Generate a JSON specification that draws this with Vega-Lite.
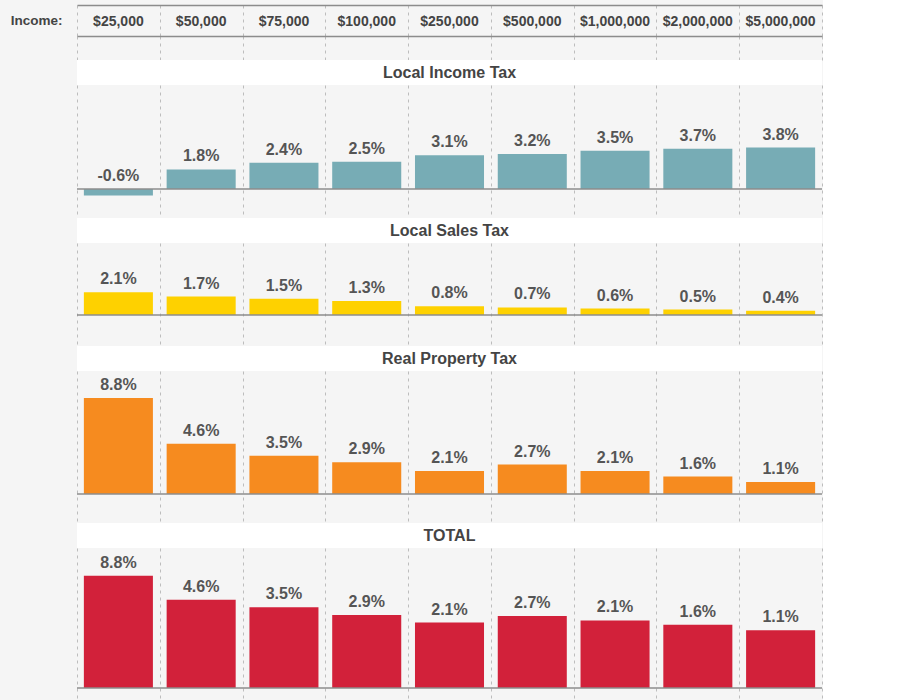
{
  "$schema": "https://vega.github.io/schema/vega-lite/v6.json",
  "background": "#f5f5f5",
  "padding": {"left": 10, "top": 5, "right": 0, "bottom": 0},
  "spacing": 0,
  "config": {
    "font": "Liberation Sans",
    "view": {"stroke": null},
    "axisX": {"domain": false, "labels": false, "ticks": false, "grid": true, "gridDash": [3, 4], "gridColor": "#bdbdbd", "gridWidth": 1, "tickBand": "extent"}
  },
  "datasets": {
    "header": [
      {"row": "Income:", "income": "$25,000"},
      {"row": "Income:", "income": "$50,000"},
      {"row": "Income:", "income": "$75,000"},
      {"row": "Income:", "income": "$100,000"},
      {"row": "Income:", "income": "$250,000"},
      {"row": "Income:", "income": "$500,000"},
      {"row": "Income:", "income": "$1,000,000"},
      {"row": "Income:", "income": "$2,000,000"},
      {"row": "Income:", "income": "$5,000,000"}
    ],
    "taxes": [
      {"panel": "Local Income Tax", "income": "$25,000", "value": -0.6, "label": "-0.6%"},
      {"panel": "Local Income Tax", "income": "$50,000", "value": 1.8, "label": "1.8%"},
      {"panel": "Local Income Tax", "income": "$75,000", "value": 2.4, "label": "2.4%"},
      {"panel": "Local Income Tax", "income": "$100,000", "value": 2.5, "label": "2.5%"},
      {"panel": "Local Income Tax", "income": "$250,000", "value": 3.1, "label": "3.1%"},
      {"panel": "Local Income Tax", "income": "$500,000", "value": 3.2, "label": "3.2%"},
      {"panel": "Local Income Tax", "income": "$1,000,000", "value": 3.5, "label": "3.5%"},
      {"panel": "Local Income Tax", "income": "$2,000,000", "value": 3.7, "label": "3.7%"},
      {"panel": "Local Income Tax", "income": "$5,000,000", "value": 3.8, "label": "3.8%"},
      {"panel": "Local Sales Tax", "income": "$25,000", "value": 2.1, "label": "2.1%"},
      {"panel": "Local Sales Tax", "income": "$50,000", "value": 1.7, "label": "1.7%"},
      {"panel": "Local Sales Tax", "income": "$75,000", "value": 1.5, "label": "1.5%"},
      {"panel": "Local Sales Tax", "income": "$100,000", "value": 1.3, "label": "1.3%"},
      {"panel": "Local Sales Tax", "income": "$250,000", "value": 0.8, "label": "0.8%"},
      {"panel": "Local Sales Tax", "income": "$500,000", "value": 0.7, "label": "0.7%"},
      {"panel": "Local Sales Tax", "income": "$1,000,000", "value": 0.6, "label": "0.6%"},
      {"panel": "Local Sales Tax", "income": "$2,000,000", "value": 0.5, "label": "0.5%"},
      {"panel": "Local Sales Tax", "income": "$5,000,000", "value": 0.4, "label": "0.4%"},
      {"panel": "Real Property Tax", "income": "$25,000", "value": 8.8, "label": "8.8%"},
      {"panel": "Real Property Tax", "income": "$50,000", "value": 4.6, "label": "4.6%"},
      {"panel": "Real Property Tax", "income": "$75,000", "value": 3.5, "label": "3.5%"},
      {"panel": "Real Property Tax", "income": "$100,000", "value": 2.9, "label": "2.9%"},
      {"panel": "Real Property Tax", "income": "$250,000", "value": 2.1, "label": "2.1%"},
      {"panel": "Real Property Tax", "income": "$500,000", "value": 2.7, "label": "2.7%"},
      {"panel": "Real Property Tax", "income": "$1,000,000", "value": 2.1, "label": "2.1%"},
      {"panel": "Real Property Tax", "income": "$2,000,000", "value": 1.6, "label": "1.6%"},
      {"panel": "Real Property Tax", "income": "$5,000,000", "value": 1.1, "label": "1.1%"},
      {"panel": "TOTAL", "income": "$25,000", "value": 10.3, "label": "8.8%"},
      {"panel": "TOTAL", "income": "$50,000", "value": 8.1, "label": "4.6%"},
      {"panel": "TOTAL", "income": "$75,000", "value": 7.4, "label": "3.5%"},
      {"panel": "TOTAL", "income": "$100,000", "value": 6.7, "label": "2.9%"},
      {"panel": "TOTAL", "income": "$250,000", "value": 6.0, "label": "2.1%"},
      {"panel": "TOTAL", "income": "$500,000", "value": 6.6, "label": "2.7%"},
      {"panel": "TOTAL", "income": "$1,000,000", "value": 6.2, "label": "2.1%"},
      {"panel": "TOTAL", "income": "$2,000,000", "value": 5.8, "label": "1.6%"},
      {"panel": "TOTAL", "income": "$5,000,000", "value": 5.3, "label": "1.1%"}
    ]
  },
  "vconcat": [
    {
      "width": 745, "height": 31,
      "data": {"name": "header"},
      "mark": {"type": "text", "fontSize": 14, "fontWeight": "bold", "color": "#444444", "dy": 1.5},
      "encoding": {
        "x": {"field": "income", "type": "nominal", "sort": null, "scale": {"type": "band", "paddingInner": 0, "paddingOuter": 0}, "title": null, "axis": {"orient": "top", "domain": true, "domainColor": "#8c8c8c", "domainWidth": 1.5}},
        "y": {"field": "row", "type": "nominal", "title": null, "axis": {"domain": false, "ticks": false, "grid": false, "labelFontSize": 13.5, "labelFontWeight": "bold", "labelColor": "#444444", "labelPadding": 15, "labelFont": "Liberation Sans"}},
        "text": {"field": "income"}
      }
    },
    {
      "width": 745, "height": 24,
      "data": {"name": "header"},
      "mark": {"type": "text", "opacity": 0},
      "encoding": {
        "x": {"field": "income", "type": "nominal", "sort": null, "scale": {"type": "band", "paddingInner": 0, "paddingOuter": 0}, "title": null, "axis": {"orient": "top", "domain": true, "domainColor": "#8c8c8c", "domainWidth": 1.5}},
        "text": {"field": "income"}
      }
    },
    {
      "width": 745, "height": 25,
      "view": {"fill": "white", "stroke": null},
      "data": {"values": [{"title": "Local Income Tax"}]},
      "mark": {"type": "text", "fontSize": 16, "fontWeight": "bold", "color": "#444444"},
      "encoding": {"text": {"field": "title"}}
    },
    {
      "width": 745, "height": 133,
      "data": {"name": "taxes"},
      "transform": [{"filter": "datum.panel === 'Local Income Tax'"}],
      "layer": [
        {
          "mark": {"type": "bar", "width": {"band": 0.834}, "color": "#77acb5"},
          "encoding": {
            "x": {"field": "income", "type": "nominal", "sort": null, "scale": {"type": "band", "paddingInner": 0, "paddingOuter": 0}, "title": null},
            "y": {"field": "value", "type": "quantitative", "scale": {"domain": [-2.66, 9.54], "nice": false, "zero": false}, "axis": null}
          }
        },
        {
          "data": {"values": [{}]},
          "mark": {"type": "rule", "color": "#8c8c8c", "strokeWidth": 1.5},
          "encoding": {"y": {"datum": 0}}
        },
        {
          "transform": [{"filter": "datum.value >= 0"}],
          "mark": {"type": "text", "fontSize": 16, "fontWeight": "bold", "color": "#555555", "baseline": "alphabetic", "dy": -8},
          "encoding": {
            "x": {"field": "income", "type": "nominal", "sort": null, "scale": {"type": "band", "paddingInner": 0, "paddingOuter": 0}, "title": null},
            "y": {"field": "value", "type": "quantitative"},
            "text": {"field": "label"}
          }
        },
        {
          "transform": [{"filter": "datum.value < 0"}],
          "mark": {"type": "text", "fontSize": 16, "fontWeight": "bold", "color": "#555555", "baseline": "alphabetic", "dy": -14.5},
          "encoding": {
            "x": {"field": "income", "type": "nominal", "sort": null, "scale": {"type": "band", "paddingInner": 0, "paddingOuter": 0}, "title": null},
            "y": {"field": "value", "type": "quantitative"},
            "text": {"field": "label"}
          }
        }
      ]
    },
    {
      "width": 745, "height": 25,
      "view": {"fill": "white", "stroke": null},
      "data": {"values": [{"title": "Local Sales Tax"}]},
      "mark": {"type": "text", "fontSize": 16, "fontWeight": "bold", "color": "#444444"},
      "encoding": {"text": {"field": "title"}}
    },
    {
      "width": 745, "height": 103,
      "data": {"name": "taxes"},
      "transform": [{"filter": "datum.panel === 'Local Sales Tax'"}],
      "layer": [
        {
          "mark": {"type": "bar", "width": {"band": 0.834}, "color": "#fed100"},
          "encoding": {
            "x": {"field": "income", "type": "nominal", "sort": null, "scale": {"type": "band", "paddingInner": 0, "paddingOuter": 0}, "title": null},
            "y": {"field": "value", "type": "quantitative", "scale": {"domain": [-2.84, 6.61], "nice": false, "zero": false}, "axis": null}
          }
        },
        {
          "data": {"values": [{}]},
          "mark": {"type": "rule", "color": "#8c8c8c", "strokeWidth": 1.5},
          "encoding": {"y": {"datum": 0}}
        },
        {
          "mark": {"type": "text", "fontSize": 16, "fontWeight": "bold", "color": "#555555", "baseline": "alphabetic", "dy": -8},
          "encoding": {
            "x": {"field": "income", "type": "nominal", "sort": null, "scale": {"type": "band", "paddingInner": 0, "paddingOuter": 0}, "title": null},
            "y": {"field": "value", "type": "quantitative"},
            "text": {"field": "label"}
          }
        }
      ]
    },
    {
      "width": 745, "height": 25,
      "view": {"fill": "white", "stroke": null},
      "data": {"values": [{"title": "Real Property Tax"}]},
      "mark": {"type": "text", "fontSize": 16, "fontWeight": "bold", "color": "#444444"},
      "encoding": {"text": {"field": "title"}}
    },
    {
      "width": 745, "height": 152,
      "data": {"name": "taxes"},
      "transform": [{"filter": "datum.panel === 'Real Property Tax'"}],
      "layer": [
        {
          "mark": {"type": "bar", "width": {"band": 0.834}, "color": "#f68b1f"},
          "encoding": {
            "x": {"field": "income", "type": "nominal", "sort": null, "scale": {"type": "band", "paddingInner": 0, "paddingOuter": 0}, "title": null},
            "y": {"field": "value", "type": "quantitative", "scale": {"domain": [-2.66, 11.28], "nice": false, "zero": false}, "axis": null}
          }
        },
        {
          "data": {"values": [{}]},
          "mark": {"type": "rule", "color": "#8c8c8c", "strokeWidth": 1.5},
          "encoding": {"y": {"datum": 0}}
        },
        {
          "mark": {"type": "text", "fontSize": 16, "fontWeight": "bold", "color": "#555555", "baseline": "alphabetic", "dy": -8},
          "encoding": {
            "x": {"field": "income", "type": "nominal", "sort": null, "scale": {"type": "band", "paddingInner": 0, "paddingOuter": 0}, "title": null},
            "y": {"field": "value", "type": "quantitative"},
            "text": {"field": "label"}
          }
        }
      ]
    },
    {
      "width": 745, "height": 25,
      "view": {"fill": "white", "stroke": null},
      "data": {"values": [{"title": "TOTAL"}]},
      "mark": {"type": "text", "fontSize": 16, "fontWeight": "bold", "color": "#444444"},
      "encoding": {"text": {"field": "title"}}
    },
    {
      "width": 745, "height": 152,
      "data": {"name": "taxes"},
      "transform": [{"filter": "datum.panel === 'TOTAL'"}],
      "layer": [
        {
          "mark": {"type": "bar", "width": {"band": 0.834}, "color": "#d2213a"},
          "encoding": {
            "x": {"field": "income", "type": "nominal", "sort": null, "scale": {"type": "band", "paddingInner": 0, "paddingOuter": 0}, "title": null},
            "y": {"field": "value", "type": "quantitative", "scale": {"domain": [-1.1, 12.84], "nice": false, "zero": false}, "axis": null}
          }
        },
        {
          "data": {"values": [{}]},
          "mark": {"type": "rule", "color": "#8c8c8c", "strokeWidth": 1.5},
          "encoding": {"y": {"datum": 0}}
        },
        {
          "mark": {"type": "text", "fontSize": 16, "fontWeight": "bold", "color": "#555555", "baseline": "alphabetic", "dy": -8},
          "encoding": {
            "x": {"field": "income", "type": "nominal", "sort": null, "scale": {"type": "band", "paddingInner": 0, "paddingOuter": 0}, "title": null},
            "y": {"field": "value", "type": "quantitative"},
            "text": {"field": "label"}
          }
        }
      ]
    }
  ]
}
